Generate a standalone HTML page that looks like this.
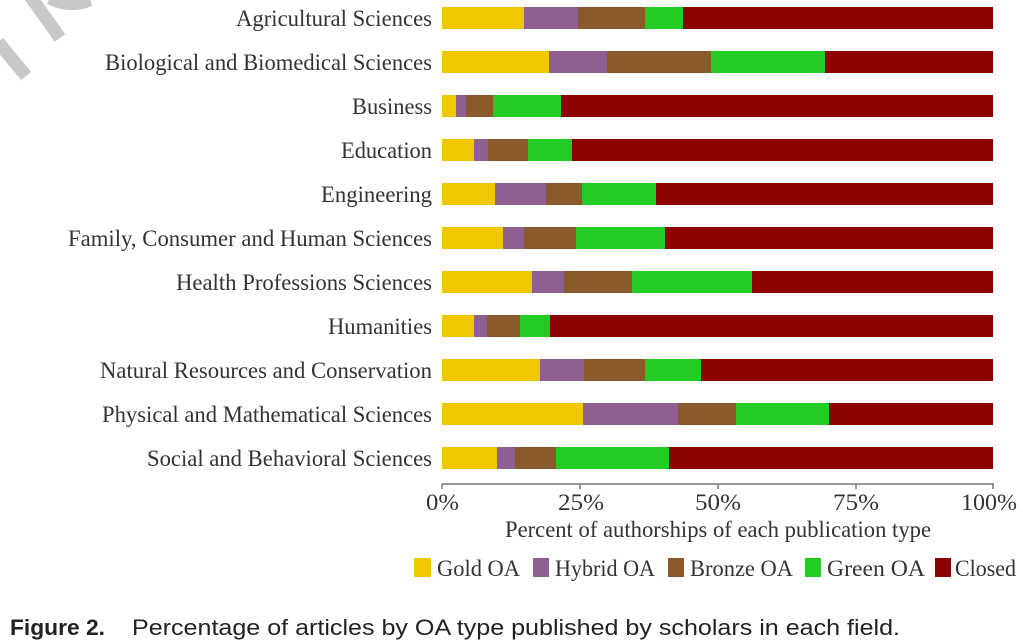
<!DOCTYPE html>
<html><head><meta charset="utf-8"><style>
body{margin:0;background:#fff;width:1023px;height:643px;overflow:hidden}
svg{display:block}
.l{font-family:"Liberation Serif",serif;font-size:23px;fill:#333}
</style></head><body>
<svg width="1023" height="643" viewBox="0 0 1023 643">
<g stroke="#c8c8c8" stroke-width="13" fill="none" stroke-linecap="butt">
<line x1="-2" y1="42" x2="26" y2="76"/>
<line x1="30" y1="-4" x2="60" y2="38"/>
<path d="M50 -2 Q70 8 90 0"/>
</g>
<g id="bars"></g>
<g stroke="#777" stroke-width="1.5">
<line x1="442" y1="484" x2="994" y2="484"/>
<line x1="442" y1="484" x2="442" y2="489"/>
<line x1="580" y1="484" x2="580" y2="489"/>
<line x1="718" y1="484" x2="718" y2="489"/>
<line x1="856" y1="484" x2="856" y2="489"/>
<line x1="993" y1="484" x2="993" y2="489"/>
</g>
<g class="l">
<text x="426" y="510" textLength="33" lengthAdjust="spacingAndGlyphs">0%</text>
<text x="558" y="510" textLength="46" lengthAdjust="spacingAndGlyphs">25%</text>
<text x="695" y="510" textLength="46" lengthAdjust="spacingAndGlyphs">50%</text>
<text x="833" y="510" textLength="46" lengthAdjust="spacingAndGlyphs">75%</text>
<text x="961" y="510" textLength="56" lengthAdjust="spacingAndGlyphs">100%</text>
<text x="505" y="537" textLength="426" lengthAdjust="spacingAndGlyphs">Percent of authorships of each publication type</text>
</g>
<g class="l">
<rect x="414" y="558" width="17" height="19" fill="#f0c800"/><text x="437" y="576" textLength="83" lengthAdjust="spacingAndGlyphs">Gold OA</text>
<rect x="533" y="558" width="16" height="19" fill="#8e5f92"/><text x="555" y="576" textLength="100" lengthAdjust="spacingAndGlyphs">Hybrid OA</text>
<rect x="668" y="558" width="16" height="19" fill="#8b5a2b"/><text x="690" y="576" textLength="103" lengthAdjust="spacingAndGlyphs">Bronze OA</text>
<rect x="805" y="558" width="16" height="19" fill="#22cc22"/><text x="827" y="576" textLength="98" lengthAdjust="spacingAndGlyphs">Green OA</text>
<rect x="935" y="558" width="16" height="19" fill="#8b0000"/><text x="955" y="576" textLength="61" lengthAdjust="spacingAndGlyphs">Closed</text>
</g>
<text x="10" y="635" textLength="95" lengthAdjust="spacingAndGlyphs" style="font-family:'Liberation Sans',sans-serif;font-size:22px;font-weight:bold;fill:#222">Figure 2.</text>
<text x="132" y="635" textLength="768" lengthAdjust="spacingAndGlyphs" style="font-family:'Liberation Sans',sans-serif;font-size:22px;fill:#222">Percentage of articles by OA type published by scholars in each field.</text>
</svg>
<script>
var d=[["Agricultural Sciences",524,578,645,683,236],["Biological and Biomedical Sciences",549,607,711,825,105],["Business",456,466,493,561,352],["Education",474,488,528,572,341],["Engineering",495,546,582,656,321],["Family, Consumer and Human Sciences",503,524,576,665,68],["Health Professions Sciences",532,564,632,752,176],["Humanities",474,487,520,550,328],["Natural Resources and Conservation",540,584,645,701,100],["Physical and Mathematical Sciences",583,678,736,829,102],["Social and Behavioral Sciences",497,515,556,669,147]];
var c=["#f0c800","#8e5f92","#8b5a2b","#22cc22","#8b0000"],g=document.getElementById("bars"),s="";
d.forEach(function(r,i){var y=7+i*44,p=[442,r[1],r[2],r[3],r[4],993];
for(var k=0;k<5;k++)s+='<rect x="'+p[k]+'" y="'+y+'" width="'+(p[k+1]-p[k])+'" height="22" fill="'+c[k]+'"/>';
s+='<text class="l" x="'+r[5]+'" y="'+(y+19)+'" textLength="'+(432-r[5])+'" lengthAdjust="spacingAndGlyphs">'+r[0]+'</text>';});
g.innerHTML=s;
</script>
</body></html>
